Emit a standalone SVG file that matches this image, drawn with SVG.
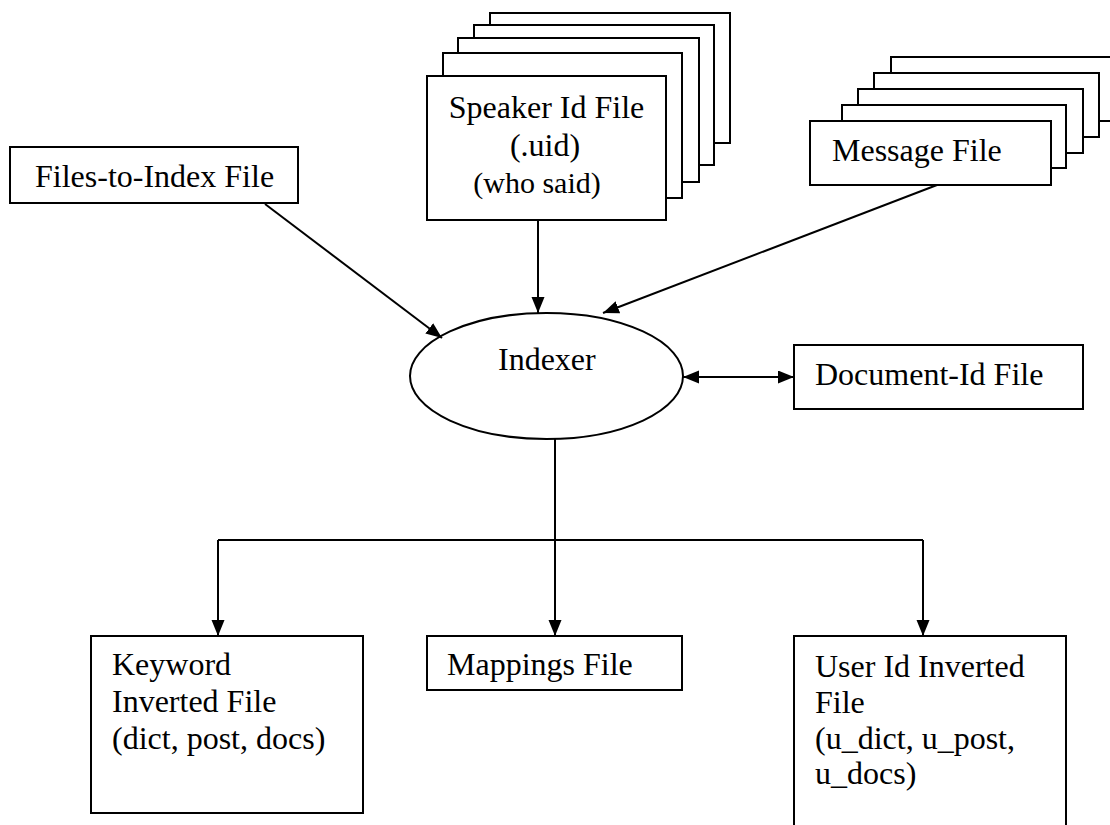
<svg xmlns="http://www.w3.org/2000/svg" width="1110" height="825" viewBox="0 0 1110 825">
  <style>
    .box { fill: #fff; stroke: #000; stroke-width: 2; }
    .lbl { font-family: "Liberation Serif", "Times New Roman", serif; font-size: 32px; fill: #000; }
    .small { font-size: 30px; }
    .wire { fill: none; stroke: #000; stroke-width: 2; }
  </style>
  <defs>
    <marker id="arrow" markerUnits="userSpaceOnUse" markerWidth="18" markerHeight="14" refX="16" refY="6.5" orient="auto-start-reverse">
      <path d="M0,0 L16,6.5 L0,13 Z" fill="#000"/>
    </marker>
  </defs>

  <!-- Speaker Id File stack -->
  <g id="speaker-id-file">
    <rect class="box" x="490" y="13" width="240" height="130"/>
    <rect class="box" x="474" y="25" width="240" height="140"/>
    <rect class="box" x="458" y="38" width="241" height="144"/>
    <rect class="box" x="443" y="53" width="239" height="145"/>
    <rect class="box" x="427" y="76" width="239" height="144"/>
    <text class="lbl" x="546.5" y="118" text-anchor="middle">Speaker Id File</text>
    <text class="lbl" x="545" y="156" text-anchor="middle">(.uid)</text>
    <text class="lbl small" x="537" y="193" text-anchor="middle">(who said)</text>
  </g>

  <!-- Message File stack -->
  <g id="message-file">
    <rect class="box" x="891" y="57" width="230" height="64"/>
    <rect class="box" x="874" y="73" width="225" height="64"/>
    <rect class="box" x="858" y="89" width="225" height="64"/>
    <rect class="box" x="842" y="105" width="224" height="63"/>
    <rect class="box" x="810" y="121" width="241" height="64"/>
    <text class="lbl" x="832" y="161">Message File</text>
  </g>

  <!-- Files-to-Index File -->
  <g id="files-to-index-file">
    <rect class="box" x="10" y="147" width="288" height="56"/>
    <text class="lbl" x="35" y="187">Files-to-Index File</text>
  </g>

  <!-- Indexer -->
  <g id="indexer">
    <ellipse class="box" cx="546.5" cy="376" rx="136.5" ry="63"/>
    <text class="lbl" x="498" y="370">Indexer</text>
  </g>

  <!-- Document-Id File -->
  <g id="document-id-file">
    <rect class="box" x="794" y="345" width="289" height="64"/>
    <text class="lbl" x="815" y="385">Document-Id File</text>
  </g>

  <!-- Keyword Inverted File -->
  <g id="keyword-inverted-file">
    <rect class="box" x="91" y="636" width="272" height="177"/>
    <text class="lbl" x="112" y="675">Keyword</text>
    <text class="lbl" x="112" y="712">Inverted File</text>
    <text class="lbl" x="112" y="749">(dict, post, docs)</text>
  </g>

  <!-- Mappings File -->
  <g id="mappings-file">
    <rect class="box" x="427" y="636" width="255" height="54"/>
    <text class="lbl" x="447" y="675">Mappings File</text>
  </g>

  <!-- User Id Inverted File -->
  <g id="user-id-inverted-file">
    <rect class="box" x="794" y="636" width="272" height="200"/>
    <text class="lbl" x="815" y="677">User Id Inverted</text>
    <text class="lbl" x="815" y="713">File</text>
    <text class="lbl" x="815" y="749">(u_dict, u_post,</text>
    <text class="lbl" x="815" y="784">u_docs)</text>
  </g>

  <!-- Connectors -->
  <g id="connectors">
    <line class="wire" x1="265" y1="204" x2="442" y2="338" marker-end="url(#arrow)"/>
    <line class="wire" x1="538" y1="220" x2="538" y2="313" marker-end="url(#arrow)"/>
    <line class="wire" x1="937" y1="185" x2="603" y2="313" marker-end="url(#arrow)"/>
    <line class="wire" x1="683" y1="377" x2="794" y2="377" marker-start="url(#arrow)" marker-end="url(#arrow)"/>
    <line class="wire" x1="555" y1="439" x2="555" y2="540"/>
    <line class="wire" x1="218" y1="540" x2="923" y2="540"/>
    <line class="wire" x1="218" y1="540" x2="218" y2="636" marker-end="url(#arrow)"/>
    <line class="wire" x1="555" y1="540" x2="555" y2="636" marker-end="url(#arrow)"/>
    <line class="wire" x1="923" y1="540" x2="923" y2="636" marker-end="url(#arrow)"/>
  </g>
</svg>
